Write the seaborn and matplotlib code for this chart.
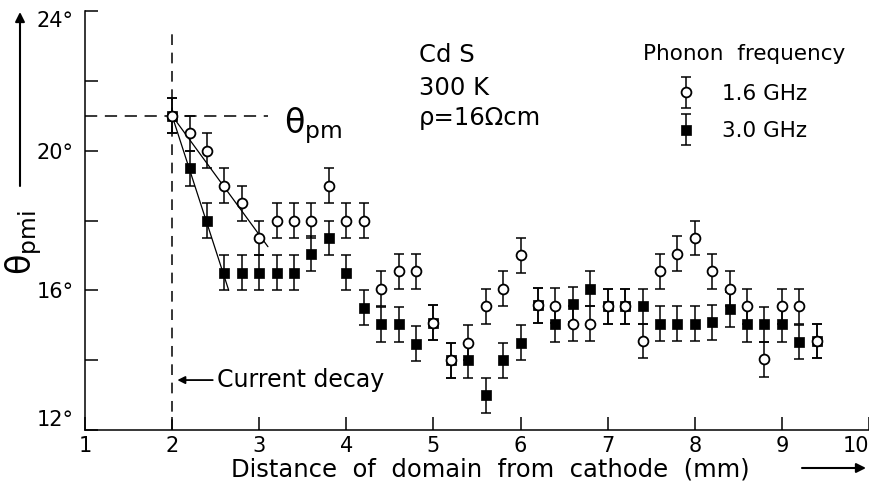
import matplotlib
matplotlib.use("Agg")
import matplotlib.pyplot as plt
import pandas as pd
import seaborn as sns
from matplotlib.container import ErrorbarContainer
from matplotlib.legend_handler import HandlerErrorbar, HandlerTuple

# Distance of the domain from the cathode (mm)
distance_mm = [2.0, 2.2, 2.4, 2.6, 2.8, 3.0, 3.2, 3.4, 3.6, 3.8,
               4.0, 4.2, 4.4, 4.6, 4.8, 5.0, 5.2, 5.4, 5.6, 5.8,
               6.0, 6.2, 6.4, 6.6, 6.8, 7.0, 7.2, 7.4, 7.6, 7.8,
               8.0, 8.2, 8.4, 8.6, 8.8, 9.0, 9.2, 9.4]

# Phase-matching angle theta_pmi (degrees) for both phonon frequencies
theta_16ghz = [21.0, 20.5, 20.0, 19.0, 18.5, 17.5, 18.0, 18.0, 18.0, 19.0,
               18.0, 18.0, 16.05, 16.55, 16.55, 15.07, 14.0, 14.5, 15.55, 16.05,
               17.0, 15.57, 15.56, 15.05, 15.05, 15.55, 15.55, 14.55, 16.55, 17.05,
               17.5, 16.55, 16.05, 15.55, 14.02, 15.55, 15.55, 14.55]
theta_30ghz = [21.0, 19.5, 18.0, 16.5, 16.5, 16.5, 16.5, 16.5, 17.05, 17.5,
               16.5, 15.5, 15.03, 15.03, 14.47, 15.07, 14.0, 14.0, 13.0, 14.0,
               14.5, 15.57, 15.03, 15.6, 16.05, 15.55, 15.55, 15.55, 15.05, 15.05,
               15.05, 15.08, 15.46, 15.03, 15.03, 15.03, 14.52, 14.55]
theta_err = 0.5

# Initial decay fits and reference values
fit_16_x = [2.0, 3.1]
fit_16_y = [21.0, 17.25]
fit_30_x = [2.0, 2.65]
fit_30_y = [21.0, 16.0]
theta_pm = 21.0
theta_pm_line_end = 3.1
current_decay_mm = 2.0
current_decay_top = 23.5

x_ticks = [1, 2, 3, 4, 5, 6, 7, 8, 9, 10]
y_major = [12, 16, 20, 24]
y_minor = [14, 18, 22]
freq_labels = ["1.6 GHz", "3.0 GHz"]

sns.set_theme(style="ticks")
plt.rcParams["font.family"] = ["DejaVu Sans"]
plt.rcParams["axes.linewidth"] = 1.1
plt.rcParams["mathtext.default"] = "regular"

W, H = 870, 493
fig = plt.figure(figsize=(W / 100, H / 100), dpi=100)
ax = fig.add_axes([85 / W, 1 - 430 / H, 784 / W, 419 / H])

df = pd.DataFrame({
    "distance": distance_mm + distance_mm,
    "theta": theta_16ghz + theta_30ghz,
    "freq": [freq_labels[0]] * len(distance_mm) + [freq_labels[1]] * len(distance_mm),
})
d16 = df[df["freq"] == freq_labels[0]]
d30 = df[df["freq"] == freq_labels[1]]

eb_kw = dict(fmt="none", ecolor="black", elinewidth=1.1, capsize=3.3, capthick=1.1)
eb30 = ax.errorbar(d30["distance"], d30["theta"], yerr=theta_err, zorder=2, **eb_kw)
eb16 = ax.errorbar(d16["distance"], d16["theta"], yerr=theta_err, zorder=2, **eb_kw)

# fitted initial slopes
sns.lineplot(x=fit_16_x, y=fit_16_y, color="black", lw=0.9, ax=ax, zorder=3)
sns.lineplot(x=fit_30_x, y=fit_30_y, color="black", lw=0.9, ax=ax, zorder=3)

sns.scatterplot(data=d30, x="distance", y="theta", marker="s", s=44,
                color="black", edgecolor="black", linewidth=0.5,
                ax=ax, zorder=4, legend=False)
sc30 = ax.collections[-1]
sns.scatterplot(data=d16, x="distance", y="theta", marker="o", s=50,
                color="white", edgecolor="black", linewidth=1.3,
                ax=ax, zorder=5, legend=False)
sc16 = ax.collections[-1]

# reference lines: phase matching angle and onset of current decay
ax.hlines(theta_pm, x_ticks[0], theta_pm_line_end, colors="black",
          linestyles=(0, (8, 5)), lw=1.1, zorder=1)
ax.vlines(current_decay_mm, y_major[0], current_decay_top, colors="black",
          linestyles=(0, (7, 5)), lw=1.1, zorder=1)

ax.set_xlim(x_ticks[0], x_ticks[-1])
ax.set_ylim(y_major[0], y_major[-1])
ax.set_xticks(x_ticks)
ax.set_xticklabels([str(t) for t in x_ticks])
ax.set_yticks(y_major)
ax.set_yticks(y_minor, minor=True)
ax.set_yticklabels([f"{t}°" for t in y_major])
ax.tick_params(axis="both", which="both", direction="in", length=9.5,
               width=1.1, color="black", labelsize=15, labelcolor="black")
ax.tick_params(axis="x", pad=4)
ax.tick_params(axis="y", pad=8)
ax.get_xticklabels()[-1].set_ha("right")
ylabs = ax.get_yticklabels()
ylabs[0].set_va("bottom")
ylabs[-1].set_va("top")
for s in ("top", "right"):
    ax.spines[s].set_visible(False)
for s in ("left", "bottom"):
    ax.spines[s].set_color("black")

ax.set_xlabel("Distance  of  domain  from  cathode  (mm)", fontsize=17.5, color="black")
ax.xaxis.set_label_coords((490 - 85) / 784, (430 - 458) / 419)
ax.set_ylabel(r"$\mathregular{\theta_{pmi}}$", fontsize=24, color="black")
ax.yaxis.label.set_va("center")
ax.yaxis.set_label_coords((24 - 85) / 784, (430 - 243) / 419)

# axis direction arrows
arrow_kw = dict(arrowstyle="-|>", color="black", lw=1.5, mutation_scale=14,
                shrinkA=0, shrinkB=0)
ax.annotate("", xy=(20, H - 12), xytext=(20, H - 186), xycoords="figure pixels",
            textcoords="figure pixels", arrowprops=arrow_kw)
ax.annotate("", xy=(866, H - 468), xytext=(802, H - 468), xycoords="figure pixels",
            textcoords="figure pixels", arrowprops=arrow_kw)

ax.text(3.28, 20.5, r"$\mathregular{\theta_{pm}}$", fontsize=24, color="black",
        ha="left", va="baseline")
ax.annotate("Current decay", xy=(2.06, 13.43), xytext=(2.52, 13.43),
            fontsize=17, color="black", ha="left", va="center",
            arrowprops=dict(arrowstyle="-|>", color="black", lw=1.3,
                            mutation_scale=11, shrinkA=1, shrinkB=0))

for txt, yc in zip(["Cd S", "300 K", "ρ=16Ωcm"], [55, 88, 118]):
    fig.text(419 / W, 1 - yc / H, txt, fontsize=17.5, color="black",
             ha="left", va="center")
fig.text(643 / W, 1 - 54 / H, "Phonon  frequency", fontsize=15.5, color="black",
         ha="left", va="center")

leg = ax.legend([(eb16, sc16), (eb30, sc30)], freq_labels,
                handler_map={ErrorbarContainer: HandlerErrorbar(yerr_size=0.72),
                             tuple: HandlerTuple(ndivide=1)},
                loc="upper left", bbox_to_anchor=(675 / W, 1 - 84 / H),
                bbox_transform=fig.transFigure, frameon=False,
                fontsize=15.5, handlelength=1.0, handletextpad=1.2,
                borderpad=0, borderaxespad=0, labelspacing=0.8,
                numpoints=1, scatterpoints=1, scatteryoffsets=[0.5])
for t in leg.get_texts():
    t.set_color("black")

fig.savefig("out.png", dpi=100, facecolor="white")
